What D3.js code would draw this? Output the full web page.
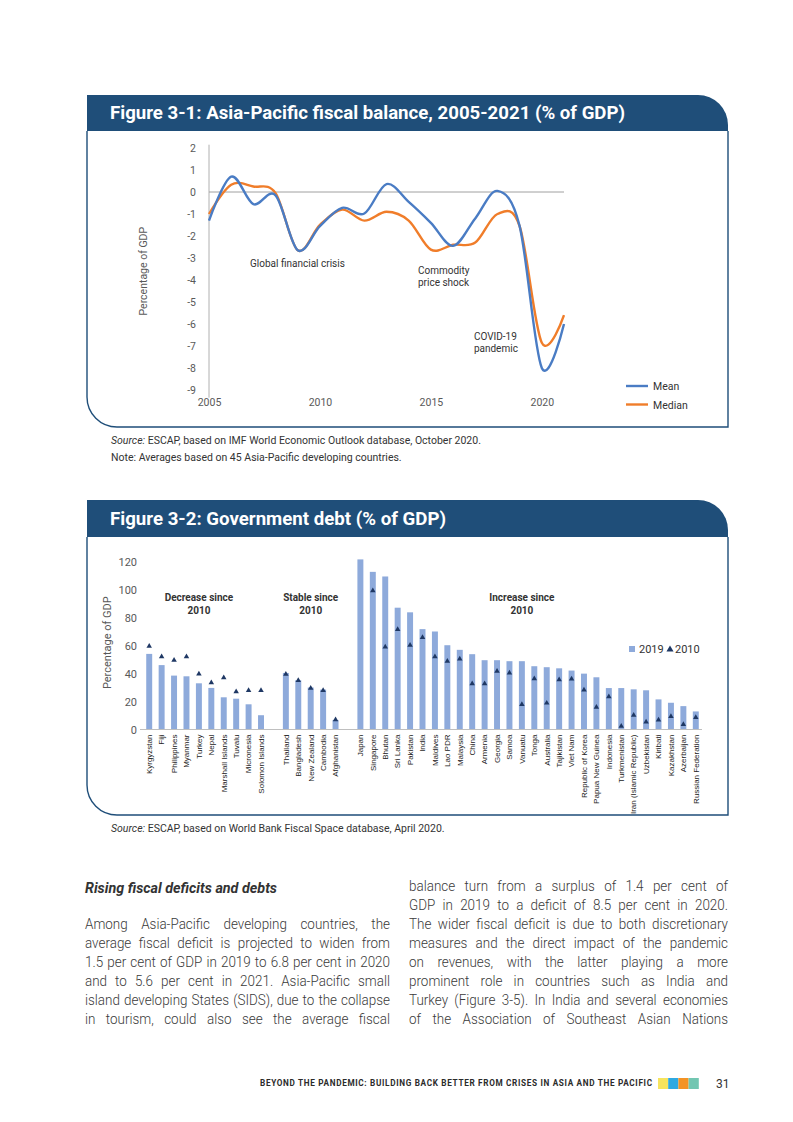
<!DOCTYPE html>
<html>
<head>
<meta charset="utf-8">
<script src="https://cdn.jsdelivr.net/npm/d3@7"></script>
<style>
  body { margin: 0; background: #fff; }
  svg { display: block; font-family: Roboto, "Noto Sans", sans-serif; }
</style>
</head>
<body>
<div id="page"></div>
<script>
// ---- Figure 3-1: fiscal balance ----
const years = [2005, 2006, 2007, 2008, 2009, 2010, 2011, 2012, 2013, 2014, 2015, 2016, 2017, 2018, 2019, 2020, 2021];
const meanBalance = [-1.3, 0.7, -0.55, -0.15, -2.65, -1.55, -0.72, -0.98, 0.36, -0.45, -1.4, -2.45, -1.2, 0.05, -1.55, -8.0, -6.0];
const medianBalance = [-1.0, 0.33, 0.25, -0.05, -2.65, -1.5, -0.8, -1.3, -0.9, -1.3, -2.62, -2.4, -2.3, -1.0, -1.55, -6.85, -5.6];
const balanceTicks = [-9, -8, -7, -6, -5, -4, -3, -2, -1, 0, 1, 2];
const yearTicks = [2005, 2010, 2015, 2020];
const balanceNotes = [
  { year: 2006.85, value: -3.41, lines: ['Global financial crisis'] },
  { year: 2014.42, value: -3.73, lines: ['Commodity', 'price shock'] },
  { year: 2016.94, value: -6.73, lines: ['COVID-19', 'pandemic'] }
];

// ---- Figure 3-2: government debt ----
const decreaseCountries = ['Kyrgyzstan', 'Fiji', 'Philippines', 'Myanmar', 'Turkey', 'Nepal', 'Marshall Islands', 'Tuvalu', 'Micronesia', 'Solomon Islands'];
const decreaseDebt2019 = [54, 46, 38.5, 38, 33, 29.7, 23, 22, 18, 10.2];
const decreaseDebt2010 = [59.5, 52, 49.5, 52, 39.7, 33.5, 37, 27, 28, 28];

const stableCountries = ['Thailand', 'Bangladesh', 'New Zealand', 'Cambodia', 'Afghanistan'];
const stableDebt2019 = [40.4, 35.2, 30, 28.5, 6.8];
const stableDebt2010 = [39.5, 35, 29.5, 28, 7];

const increaseCountries = ['Japan', 'Singapore', 'Bhutan', 'Sri Lanka', 'Pakistan', 'India', 'Maldives', 'Lao PDR', 'Malaysia', 'China',
  'Armenia', 'Georgia', 'Samoa', 'Vanuatu', 'Tonga', 'Australia', 'Tajikistan', 'Viet Nam', 'Republic of Korea', 'Papua New Guinea',
  'Indonesia', 'Turkmenistan', 'Iran (Islamic Republic)', 'Uzbekistan', 'Kiribati', 'Kazakhstan', 'Azerbaijan', 'Russian Federation'];
const increaseDebt2019 = [121.5, 112.6, 109.3, 87, 83.7, 71.7, 70, 60.2, 56.9, 53.8, 49.5, 49.5, 48.8, 48.8, 45.2, 44.5, 43.7, 42.1, 39.9, 37.3,
  29.6, 29.6, 28.7, 28, 21.5, 19.1, 16.7, 12.9];
const increaseDebt2010 = [null, 99.2, 59, 71.5, 60.2, 65.7, 52.1, 48.8, 50.4, 32.8, 32.8, 41.6, 40.4, 17.9, 36.3, 18.9, 35.6, 36.1, 28.2, 16,
  23.4, 2.4, 10.3, 5.5, 6.9, 9.3, 3.6, 8.6];

const debtTicks = [0, 20, 40, 60, 80, 100, 120];
const groupLabels = [
  { at: 'Turkey', lines: ['Decrease since', '2010'] },
  { at: 'New Zealand', lines: ['Stable since', '2010'] },
  { at: 'Vanuatu', lines: ['Increase since', '2010'] }
];

// ---- page text ----
const bodyHeading = 'Rising fiscal deficits and debts';
const leftLines = [
  'Among Asia-Pacific developing countries, the',
  'average fiscal deficit is projected to widen from',
  '1.5 per cent of GDP in 2019 to 6.8 per cent in 2020',
  'and to 5.6 per cent in 2021. Asia-Pacific small',
  'island developing States (SIDS), due to the collapse',
  'in tourism, could also see the average fiscal'
];
const rightLines = [
  'balance turn from a surplus of 1.4 per cent of',
  'GDP in 2019 to a deficit of 8.5 per cent in 2020.',
  'The wider fiscal deficit is due to both discretionary',
  'measures and the direct impact of the pandemic',
  'on revenues, with the latter playing a more',
  'prominent role in countries such as India and',
  'Turkey (Figure 3-5). In India and several economies',
  'of the Association of Southeast Asian Nations'
];
const footerText = 'BEYOND THE PANDEMIC: BUILDING BACK BETTER FROM CRISES IN ASIA AND THE PACIFIC';
const footerColors = ['#f6e45e', '#2fa9e1', '#f39325', '#72c6b1'];

const NAVY = '#1f4e79';
const TICK = '#595959';
const TEXT = '#333333';

const svg = d3.select('#page').append('svg')
  .attr('width', 793)
  .attr('height', 1122);

function drawPanel(top, headBottom, bottom, title, titleWidth) {
  const L = 87, R = 728, r = 30;
  svg.append('path')
    .attr('d', `M${L},${headBottom} V${bottom - r} A${r},${r} 0 0 0 ${L + r},${bottom} H${R} V${headBottom}`)
    .attr('fill', 'none')
    .attr('stroke', NAVY)
    .attr('stroke-width', 1.4);
  svg.append('path')
    .attr('d', `M${L},${headBottom} V${top} H${R - r} A${r},${r} 0 0 1 ${R},${top + r} V${headBottom} Z`)
    .attr('fill', NAVY);
  svg.append('text')
    .attr('x', 110)
    .attr('y', (top + headBottom) / 2 + 6)
    .attr('fill', '#fff')
    .attr('font-size', 17.5)
    .attr('font-weight', 700)
    .attr('textLength', titleWidth)
    .attr('lengthAdjust', 'spacingAndGlyphs')
    .text(title);
}

function sourceLine(y, lead, rest) {
  const t = svg.append('text')
    .attr('x', 111).attr('y', y)
    .attr('font-size', 10.5).attr('fill', TEXT);
  if (lead) t.append('tspan').attr('font-style', 'italic').text(lead);
  t.append('tspan').text(rest);
}

// ================= Figure 3-1 =================
drawPanel(95, 131, 427, 'Figure 3-1: Asia-Pacific fiscal balance, 2005-2021 (% of GDP)', 515);

const x1 = d3.scaleLinear().domain([2005, 2021]).range([209, 564]);
const y1 = d3.scaleLinear().domain([-9, 2]).range([390, 148]);
const g1 = svg.append('g');

g1.append('line')
  .attr('x1', x1(2005)).attr('x2', x1(2005))
  .attr('y1', y1(2.15)).attr('y2', y1(-9.35))
  .attr('stroke', '#b0b0b0');
g1.append('line')
  .attr('x1', x1(2005)).attr('x2', x1(2021))
  .attr('y1', y1(0)).attr('y2', y1(0))
  .attr('stroke', '#a0a0a0');

g1.append('g')
  .attr('transform', `translate(${x1(2005)},0)`)
  .call(d3.axisLeft(y1).tickValues(balanceTicks).tickSize(0).tickPadding(13).tickFormat(d => String(d)))
  .call(g => g.select('.domain').remove())
  .selectAll('text')
  .attr('font-size', 10.5).attr('fill', TICK).attr('font-family', 'Roboto, sans-serif');

g1.append('g')
  .attr('transform', `translate(0,${y1(-9) + 5})`)
  .call(d3.axisBottom(x1).tickValues(yearTicks).tickSize(0).tickPadding(4).tickFormat(d => String(d)))
  .call(g => g.select('.domain').remove())
  .selectAll('text')
  .attr('font-size', 10.5).attr('fill', TICK).attr('font-family', 'Roboto, sans-serif');

g1.append('text')
  .attr('transform', `translate(147,${y1(-3.6)}) rotate(-90)`)
  .attr('text-anchor', 'middle')
  .attr('font-size', 10.5).attr('fill', TICK)
  .text('Percentage of GDP');

const line1 = d3.line()
  .x((d, i) => x1(years[i]))
  .y(d => y1(d))
  .curve(d3.curveCardinal.tension(0));

g1.append('path').datum(medianBalance)
  .attr('fill', 'none').attr('stroke', '#f07d2a').attr('stroke-width', 2.4)
  .attr('d', line1);
g1.append('path').datum(meanBalance)
  .attr('fill', 'none').attr('stroke', '#4a7cc4').attr('stroke-width', 2.4)
  .attr('d', line1);

balanceNotes.forEach(n => {
  n.lines.forEach((s, i) => {
    g1.append('text')
      .attr('x', x1(n.year)).attr('y', y1(n.value) + i * 11.5)
      .attr('font-size', 10).attr('fill', TEXT)
      .text(s);
  });
});

const legend1 = [['Mean', '#4a7cc4'], ['Median', '#f07d2a']];
legend1.forEach((d, i) => {
  const ly = 386 + i * 18.5;
  g1.append('line').attr('x1', 626).attr('x2', 648).attr('y1', ly).attr('y2', ly)
    .attr('stroke', d[1]).attr('stroke-width', 2.4);
  g1.append('text').attr('x', 653).attr('y', ly + 4)
    .attr('font-size', 10.5).attr('fill', TEXT).text(d[0]);
});

sourceLine(444, 'Source:', ' ESCAP, based on IMF World Economic Outlook database, October 2020.');
sourceLine(461, null, 'Note: Averages based on 45 Asia-Pacific developing countries.');

// ================= Figure 3-2 =================
drawPanel(500, 537, 815, 'Figure 3-2: Government debt (% of GDP)', 336);

const debtRows = [];
decreaseCountries.forEach((c, i) => debtRows.push({ country: c, v2019: decreaseDebt2019[i], v2010: decreaseDebt2010[i] }));
debtRows.push({ country: '_gap1', v2019: null, v2010: null });
stableCountries.forEach((c, i) => debtRows.push({ country: c, v2019: stableDebt2019[i], v2010: stableDebt2010[i] }));
debtRows.push({ country: '_gap2', v2019: null, v2010: null });
increaseCountries.forEach((c, i) => debtRows.push({ country: c, v2019: increaseDebt2019[i], v2010: increaseDebt2010[i] }));

const x2 = d3.scaleBand()
  .domain(debtRows.map(d => d.country))
  .range([143, 702])
  .paddingInner(0.52)
  .paddingOuter(0.26);
const y2 = d3.scaleLinear().domain([0, 120]).range([729.5, 561.5]);
const g2 = svg.append('g');

g2.append('g')
  .attr('transform', 'translate(137,0)')
  .call(d3.axisLeft(y2).tickValues(debtTicks).tickSize(0).tickPadding(0))
  .call(g => g.select('.domain').remove())
  .selectAll('text')
  .attr('font-size', 11).attr('fill', TICK).attr('font-family', 'Roboto, sans-serif');

g2.append('text')
  .attr('transform', `translate(111,${y2(62)}) rotate(-90)`)
  .attr('text-anchor', 'middle')
  .attr('font-size', 11).attr('fill', TICK)
  .text('Percentage of GDP');

const bars = debtRows.filter(d => d.v2019 != null);
g2.selectAll('rect.bar').data(bars).join('rect')
  .attr('class', 'bar')
  .attr('x', d => x2(d.country))
  .attr('width', x2.bandwidth())
  .attr('y', d => y2(d.v2019))
  .attr('height', d => y2(0) - y2(d.v2019))
  .attr('fill', '#8eaadb');

g2.append('line')
  .attr('x1', 140).attr('x2', 702)
  .attr('y1', y2(0)).attr('y2', y2(0))
  .attr('stroke', '#bfbfbf');

const tri = d3.symbol(d3.symbolTriangle).size(13);
g2.selectAll('path.tri').data(debtRows.filter(d => d.v2010 != null)).join('path')
  .attr('class', 'tri')
  .attr('d', tri)
  .attr('transform', d => `translate(${x2(d.country) + x2.bandwidth() / 2},${y2(d.v2010)})`)
  .attr('fill', '#1f3864');

g2.selectAll('text.cat').data(bars).join('text')
  .attr('class', 'cat')
  .attr('transform', d => `translate(${x2(d.country) + x2.bandwidth() / 2},${y2(0) + 5}) rotate(-90)`)
  .attr('text-anchor', 'end')
  .attr('dy', '0.35em')
  .attr('font-size', 8)
  .attr('font-family', '"Liberation Sans Narrow", "Arial Narrow", "Liberation Sans", sans-serif')
  .attr('fill', '#222')
  .text(d => d.country);

groupLabels.forEach(gl => {
  gl.lines.forEach((s, i) => {
    g2.append('text')
      .attr('x', x2(gl.at) + x2.bandwidth() / 2)
      .attr('y', 601 + i * 12.5)
      .attr('text-anchor', 'middle')
      .attr('font-size', 10).attr('font-weight', 700).attr('fill', TEXT)
      .text(s);
  });
});

// legend
g2.append('rect').attr('x', 629).attr('y', 646).attr('width', 6).attr('height', 6).attr('fill', '#8eaadb');
g2.append('text').attr('x', 639).attr('y', 653).attr('font-size', 11).attr('fill', TEXT).text('2019');
g2.append('path').attr('d', d3.symbol(d3.symbolTriangle).size(22)).attr('transform', 'translate(670,649.5)').attr('fill', '#1f3864');
g2.append('text').attr('x', 675).attr('y', 653).attr('font-size', 11).attr('fill', TEXT).text('2010');

sourceLine(832, 'Source:', ' ESCAP, based on World Bank Fiscal Space database, April 2020.');

// ================= Body text =================
svg.append('text')
  .attr('x', 85).attr('y', 893)
  .attr('font-size', 14).attr('font-weight', 700).attr('font-style', 'italic').attr('fill', TEXT)
  .attr('textLength', 192).attr('lengthAdjust', 'spacingAndGlyphs')
  .text(bodyHeading);

// narrow the body face a little and spread each line to the column width
const SQUEEZE = 0.96;
function justified(lines, x0, x1b, y0) {
  const g = svg.append('g').attr('transform', `translate(${x0},0) scale(${SQUEEZE},1)`);
  const target = (x1b - x0) / SQUEEZE;
  lines.forEach((s, i) => {
    const t = g.append('text')
      .attr('x', 0).attr('y', y0 + i * 19)
      .attr('font-size', 14).attr('font-weight', 300).attr('fill', '#3a3a3a')
      .text(s);
    const natural = t.node().getComputedTextLength();
    const spaces = (s.match(/ /g) || []).length;
    if (spaces > 0) t.attr('word-spacing', (target - natural) / spaces);
  });
}
justified(leftLines, 85, 390, 929);
justified(rightLines, 409, 728, 891);

// ================= Footer =================
svg.append('text')
  .attr('x', 260).attr('y', 1086)
  .attr('font-size', 8.2).attr('font-weight', 700).attr('fill', '#2b2b2b')
  .attr('textLength', 392).attr('lengthAdjust', 'spacing')
  .text(footerText);
footerColors.forEach((c, i) => {
  svg.append('rect').attr('x', 658 + i * 10.2).attr('y', 1078).attr('width', 10.2).attr('height', 11).attr('fill', c);
});
svg.append('text')
  .attr('x', 716).attr('y', 1088)
  .attr('font-size', 12).attr('fill', TEXT)
  .text('31');
</script>
</body>
</html>
